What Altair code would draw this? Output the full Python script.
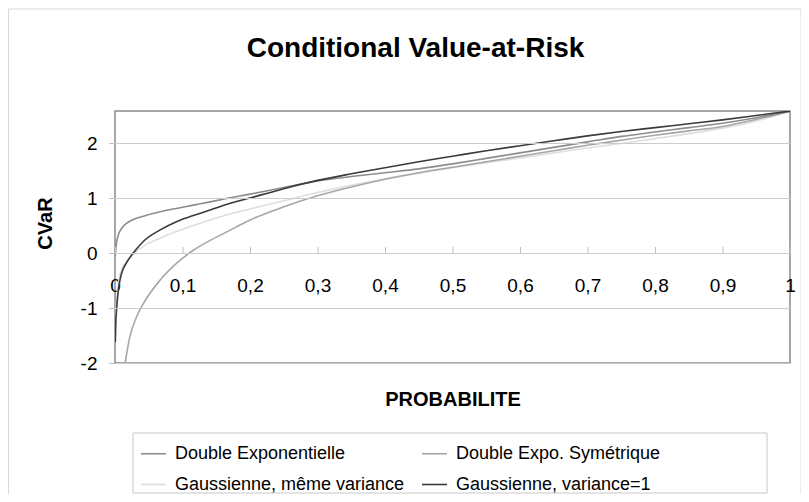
import altair as alt
import pandas as pd

# ---- data ----
series_names = [
    "Double Exponentielle",
    "Double Expo. Symétrique",
    "Gaussienne, même variance",
    "Gaussienne,  variance=1",
]
series_colors = ["#8c8c8c", "#a6a6a6", "#dedede", "#3a3a3a"]

x_ticks = [0, 0.1, 0.2, 0.3, 0.4, 0.5, 0.6, 0.7, 0.8, 0.9, 1]
y_ticks = [-2, -1, 0, 1, 2]

p_tail = [0.2, 0.25, 0.3, 0.35, 0.4, 0.45, 0.5, 0.55, 0.6, 0.65, 0.7,
          0.75, 0.8, 0.85, 0.9, 0.95, 1.0]

# Double Exponentielle
p_de = [0.0005, 0.0015, 0.005, 0.01, 0.017, 0.027, 0.042, 0.067, 0.091,
        0.116, 0.141, 0.165] + p_tail
v_de = [-0.05, 0.12, 0.33, 0.45, 0.54, 0.61, 0.67, 0.75, 0.81,
        0.87, 0.93, 0.99,
        1.07, 1.19, 1.31, 1.39, 1.46, 1.53, 1.62, 1.72, 1.82, 1.92, 2.02,
        2.12, 2.20, 2.28, 2.36, 2.46, 2.58]

# Double Expo. Symétrique
p_des = [0.015, 0.022, 0.032, 0.042, 0.067, 0.091, 0.116, 0.141,
         0.165] + p_tail
v_des = [-2.0, -1.52, -1.16, -0.92, -0.49, -0.19, 0.05, 0.23,
         0.38,
         0.60, 0.84, 1.04, 1.2, 1.34, 1.46, 1.56, 1.66, 1.76, 1.86, 1.96,
         2.05, 2.14, 2.22, 2.30, 2.43, 2.58]

# Gaussienne, même variance
p_gmv = [0.001, 0.002, 0.005, 0.01, 0.017, 0.027, 0.042, 0.067, 0.091,
         0.116, 0.141, 0.165] + p_tail
v_gmv = [-1.15, -0.95, -0.55, -0.3, -0.15, -0.02, 0.12, 0.27, 0.39,
         0.5, 0.6, 0.69,
         0.80, 0.95, 1.1, 1.23, 1.35, 1.45, 1.55, 1.64, 1.73, 1.82, 1.91,
         1.99, 2.08, 2.17, 2.27, 2.40, 2.58]

# Gaussienne, variance=1
p_gv1 = [0.0005, 0.001, 0.0025, 0.005, 0.01, 0.017, 0.027, 0.042, 0.067,
         0.091, 0.116, 0.141, 0.165] + p_tail
v_gv1 = [-1.62, -1.35, -1.0, -0.67, -0.36, -0.18, 0.0, 0.21, 0.42,
         0.57, 0.68, 0.78, 0.88,
         1.0, 1.17, 1.32, 1.44, 1.55, 1.66, 1.76, 1.86, 1.95, 2.04,
         2.13, 2.21, 2.28, 2.35, 2.42, 2.50, 2.58]

# drawing order: lightest first, darkest last
series_data = [
    (series_names[2], p_gmv, v_gmv),
    (series_names[1], p_des, v_des),
    (series_names[0], p_de, v_de),
    (series_names[3], p_gv1, v_gv1),
]
rows = []
for name, ps, vs in series_data:
    for p, v in zip(ps, vs):
        rows.append({"serie": name, "p": p, "cvar": v})
df = pd.DataFrame(rows)

# legend fills column by column: order so that rows read as in the reference
legend_order = [0, 2, 1, 3]
leg_domain = [series_names[i] for i in legend_order]
leg_range = [series_colors[i] for i in legend_order]

FONT = "Liberation Sans"
W, H = 675, 252          # 55 px per CVaR unit -> crisp gridlines
Y_TOP = -2 + H / 55.0
GRID = "#cccccc"
TICK = "#bdbdbd"

xscale = alt.Scale(domain=[0, 1], nice=False)
yscale = alt.Scale(domain=[-2, Y_TOP], nice=False, zero=False)

x_axis = alt.Axis(
    values=x_ticks,
    offset=-116,
    domain=False,
    grid=False,
    ticks=True,
    tickSize=6,
    tickOpacity=0,
    labelPadding=23,
    labelFontSize=19,
    labelFont=FONT,
    labelColor="black",
    labelFlush=False,
    labelOverlap=False,
    labelExpr="replace(format(datum.value, '.1~f'), '.', ',')",
    title="PROBABILITE",
    titleFont=FONT,
    titleFontSize=20,
    titleFontWeight="bold",
    titleColor="black",
    titleY=152,
    titleBaseline="middle",
)

y_axis = alt.Axis(
    values=y_ticks,
    domain=False,
    grid=True,
    gridColor=GRID,
    ticks=True,
    tickSize=6,
    tickOpacity=0,
    labelPadding=12,
    labelFontSize=19,
    labelFont=FONT,
    labelColor="black",
    labelExpr="datum.value < 0 ? '-' + abs(datum.value) : '' + datum.value",
    title="CVaR",
    titleFont=FONT,
    titleFontSize=20,
    titleFontWeight="bold",
    titleColor="black",
    titleX=-70,
    titleY=112,
    titleBaseline="middle",
    titleAlign="center",
)

one = alt.Data(values=[{"k": 1}])

lines = alt.Chart(df).mark_line(strokeWidth=1.6, clip=True, interpolate="monotone").encode(
    x=alt.X("p:Q", scale=xscale, axis=x_axis),
    y=alt.Y("cvar:Q", scale=yscale, axis=y_axis),
    color=alt.Color(
        "serie:N",
        scale=alt.Scale(domain=leg_domain, range=leg_range),
        legend=alt.Legend(
            title=None,
            orient="none",
            legendX=18,
            legendY=322,
            columns=2,
            symbolType="stroke",
            symbolSize=625,
            symbolStrokeWidth=1.6,
            labelFont=FONT,
            labelFontSize=18,
            labelColor="black",
            labelOffset=8,
            labelLimit=400,
            columnPadding=13,
            rowPadding=8,
            padding=7,
        ),
    ),
    detail="serie:N",
)

# horizontal gridlines (the -2 line is the plot border itself)
ygrid = alt.Chart(alt.Data(values=[{"cvar": v} for v in y_ticks if v > -2])).mark_tick(
    orient="horizontal", color=GRID, thickness=1, size=W, yOffset=0.5, opacity=1
).encode(
    x=alt.value(W / 2),
    y=alt.Y("cvar:Q", scale=yscale, axis=y_axis),
)

# small outside tick marks on the value axis
ytickmarks = alt.Chart(alt.Data(values=[{"cvar": v} for v in y_ticks])).mark_tick(
    orient="horizontal", color=TICK, thickness=1, size=6, yOffset=0.5, opacity=1
).encode(
    x=alt.value(-3),
    y=alt.Y("cvar:Q", scale=yscale, axis=y_axis),
)

# tick marks standing on the zero line
xtickmarks = alt.Chart(alt.Data(values=[{"p": v} for v in x_ticks])).mark_tick(
    orient="vertical", color=TICK, thickness=1, size=6, xOffset=0.5, opacity=1
).encode(
    x=alt.X("p:Q", scale=xscale, axis=x_axis),
    y=alt.value(H - 2 * 55 - 3),
)

frame = alt.Chart(one).mark_rect(
    fill="white", fillOpacity=0, stroke="#d9d9d9", strokeWidth=1
).encode(
    x=alt.value(-106.5), x2=alt.value(686), y=alt.value(-102), y2=alt.value(420)
)

legend_box = alt.Chart(one).mark_rect(
    fill="white", fillOpacity=0, stroke="#c8c8c8", strokeWidth=1
).encode(
    x=alt.value(18), x2=alt.value(652), y=alt.value(322), y2=alt.value(382)
)

# the outer frame rect (top at -102) is part of the view bounds,
# so the title offset is counted from there
chart = alt.layer(lines, ygrid, xtickmarks, ytickmarks, frame, legend_box).properties(
    width=W,
    height=H,
    padding={"left": 107, "top": 103, "right": 11, "bottom": 131},
    autosize=alt.AutoSizeParams(type="none"),
    title=alt.TitleParams(
        "Conditional Value-at-Risk",
        font=FONT,
        fontSize=28,
        fontWeight="bold",
        color="black",
        anchor="middle",
        baseline="alphabetic",
        offset=-76,
        dx=-37,
    ),
).configure_view(stroke="#8a8a8a", strokeWidth=1.5)

chart.save("out.html", embed_options={"renderer": "svg", "actions": False})
